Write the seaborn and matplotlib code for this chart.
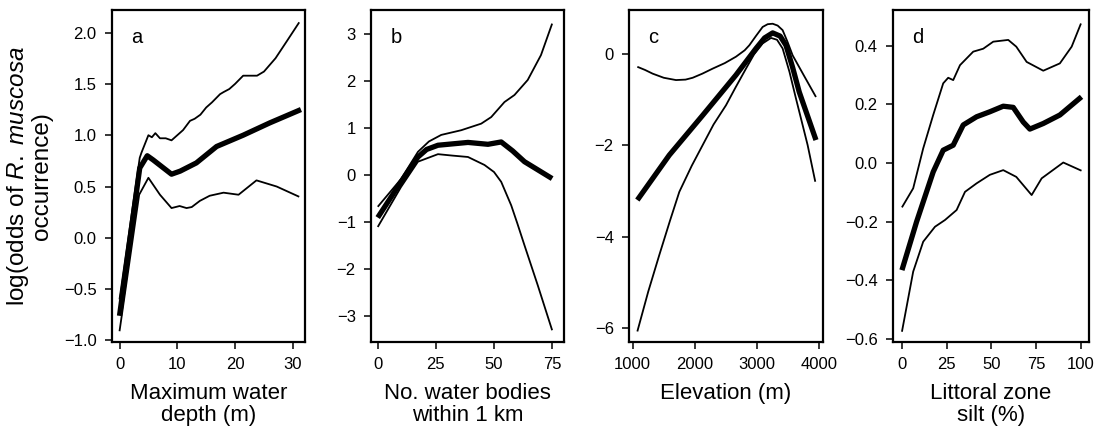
import matplotlib
matplotlib.use("Agg")
import matplotlib.pyplot as plt
import seaborn as sns
import pandas as pd

# --- Panel a: maximum water depth ---
A_FIT_X = [0, 3.5, 4.8, 5.8, 9.0, 10.5, 13.3, 16.8, 21.4, 26, 31.4]
A_FIT_Y = [-0.76, 0.68, 0.80, 0.76, 0.62, 0.65, 0.73, 0.89, 1.0, 1.12, 1.25]
A_UP_X = [0, 3.5, 3.8, 5.0, 5.6, 6.2, 7, 8, 9, 10, 11, 12.2, 13, 14, 15, 16, 17.4,
          18, 19, 20, 21.4, 23.8, 25, 27, 29, 31.1]
A_UP_Y = [-0.6, 0.78, 0.83, 1.0, 0.98, 1.02, 0.97, 0.97, 0.95, 1.0, 1.05, 1.14, 1.16,
          1.2, 1.27, 1.32, 1.40, 1.42, 1.45, 1.5, 1.58, 1.58, 1.62, 1.75, 1.92, 2.10]
A_LO_X = [0, 3.4, 5.0, 7.0, 9.0, 10.4, 11.6, 12.5, 13.9, 15.6, 18, 20.6, 23.7, 27.2, 31.1]
A_LO_Y = [-0.91, 0.42, 0.585, 0.42, 0.29, 0.31, 0.29, 0.30, 0.36, 0.41, 0.44, 0.42,
          0.56, 0.50, 0.40]

# --- Panel b: number of water bodies within 1 km ---
B_FIT_X = [0, 10, 17.3, 21, 25.9, 38.8, 47.4, 53.1, 58, 63.1, 75]
B_FIT_Y = [-0.9, -0.14, 0.39, 0.55, 0.64, 0.70, 0.66, 0.71, 0.52, 0.29, -0.07]
B_UP_X = [0, 10, 17.3, 22, 27.3, 35.9, 44.5, 48.8, 54.5, 58.8, 64.5, 70.2, 75]
B_UP_Y = [-0.67, -0.08, 0.50, 0.72, 0.86, 0.96, 1.10, 1.24, 1.56, 1.71, 2.03, 2.56, 3.23]
B_LO_X = [0, 10, 17.3, 25.9, 32, 38.8, 45.9, 50, 53.1, 57.4, 60, 63.1, 68.8, 75]
B_LO_Y = [-1.10, -0.25, 0.29, 0.45, 0.42, 0.39, 0.22, 0.07, -0.14, -0.64, -1.02, -1.49,
          -2.34, -3.3]

# --- Panel c: elevation ---
C_FIT_X = [1075, 1588, 2125, 2660, 2982, 3120, 3250, 3370, 3464, 3570, 3677, 3946]
C_FIT_Y = [-3.2, -2.22, -1.35, -0.47, 0.11, 0.34, 0.45, 0.38, 0.18, -0.30, -0.84, -1.89]
C_UP_X = [1075, 1200, 1321, 1500, 1696, 1850, 1964, 2120, 2286, 2480, 2660, 2800, 2875,
          2980, 3089, 3170, 3250, 3330, 3410, 3490, 3571, 3760, 3946]
C_UP_Y = [-0.29, -0.36, -0.44, -0.53, -0.58, -0.57, -0.53, -0.44, -0.33, -0.21, -0.07,
          0.07, 0.18, 0.38, 0.58, 0.64, 0.65, 0.61, 0.51, 0.25, -0.04, -0.50, -0.95]
C_LO_X = [1075, 1250, 1428, 1600, 1750, 1950, 2125, 2300, 2500, 2650, 2821, 2950, 3089,
          3223, 3320, 3410, 3520, 3624, 3720, 3812, 3935]
C_LO_Y = [-6.07, -5.2, -4.40, -3.65, -3.02, -2.45, -2.0, -1.55, -1.13, -0.75, -0.33,
          -0.02, 0.22, 0.34, 0.30, 0.11, -0.40, -0.98, -1.50, -2.0, -2.80]

# --- Panel d: littoral zone silt ---
D_FIT_X = [0, 8.2, 17.5, 23.1, 28.7, 34.3, 41.8, 49.2, 56.7, 62.3, 67.9, 71.6, 79.1, 88.4, 100.5]
D_FIT_Y = [-0.365, -0.20, -0.03, 0.044, 0.061, 0.13, 0.158, 0.175, 0.194, 0.19, 0.14,
           0.116, 0.135, 0.164, 0.226]
D_UP_X = [0, 6.3, 11.9, 17.5, 23.1, 25.9, 28.7, 32.5, 39.9, 45.5, 51.1, 59.5, 64, 69.8,
          79.1, 88.4, 95, 100.2]
D_UP_Y = [-0.151, -0.086, 0.05, 0.164, 0.272, 0.291, 0.283, 0.334, 0.38, 0.39, 0.414,
          0.42, 0.397, 0.345, 0.315, 0.34, 0.397, 0.476]
D_LO_X = [0, 6.3, 11.9, 18.5, 24.1, 30.6, 35.3, 41.8, 49.2, 56.7, 64, 72.6, 78.2, 90.3, 100.5]
D_LO_Y = [-0.575, -0.37, -0.268, -0.217, -0.194, -0.16, -0.098, -0.069, -0.04, -0.024,
          -0.047, -0.109, -0.052, 0.002, -0.026]

PANELS = [
    ("a", "Maximum water\ndepth (m)", (A_FIT_X, A_FIT_Y), (A_UP_X, A_UP_Y), (A_LO_X, A_LO_Y),
     [0, 10, 20, 30], [-1.0, -0.5, 0.0, 0.5, 1.0, 1.5, 2.0], "{:.1f}", (-1.3, 32.1), (-1.015, 2.22)),
    ("b", "No. water bodies\nwithin 1 km", (B_FIT_X, B_FIT_Y), (B_UP_X, B_UP_Y), (B_LO_X, B_LO_Y),
     [0, 25, 50, 75], [-3, -2, -1, 0, 1, 2, 3], "{:.0f}", (-2.9, 80.1), (-3.55, 3.52)),
    ("c", "Elevation (m)", (C_FIT_X, C_FIT_Y), (C_UP_X, C_UP_Y), (C_LO_X, C_LO_Y),
     [1000, 2000, 3000, 4000], [-6, -4, -2, 0], "{:.0f}", (941, 4059), (-6.3, 0.95)),
    ("d", "Littoral zone\nsilt (%)", (D_FIT_X, D_FIT_Y), (D_UP_X, D_UP_Y), (D_LO_X, D_LO_Y),
     [0, 25, 50, 75, 100], [-0.6, -0.4, -0.2, 0.0, 0.2, 0.4], "{:.1f}", (-5, 104.7), (-0.61, 0.522)),
]

sns.set_theme(style="ticks")
plt.rcParams["font.family"] = ["Liberation Sans", "DejaVu Sans"]
plt.rcParams["mathtext.fontset"] = "custom"
plt.rcParams["mathtext.rm"] = "Liberation Sans"
plt.rcParams["mathtext.it"] = "Liberation Sans:italic"
plt.rcParams["text.color"] = "black"
plt.rcParams["axes.labelcolor"] = "black"

fig = plt.figure(figsize=(11, 4.33), dpi=100)
lefts = [112, 371, 629, 893]
widths = [193, 193, 194, 196]

for i, (letter, xlabel, fit, up, lo, xt, yt, fmt, xl, yl) in enumerate(PANELS):
    ax = fig.add_axes([lefts[i] / 1100, 1 - 342 / 433, widths[i] / 1100, 332 / 433])
    # thin lines = bounds, thick line = fitted curve
    for (xs, ys), lw in ((up, 1.3), (lo, 1.3), (fit, 3.8)):
        df = pd.DataFrame({"x": xs, "y": ys})
        sns.lineplot(data=df, x="x", y="y", ax=ax, color="black", linewidth=lw,
                     estimator=None, sort=False, solid_capstyle="butt")
    ax.set_xlim(*xl)
    ax.set_ylim(*yl)
    ax.set_xticks(xt)
    ax.set_yticks(yt)
    ax.set_yticklabels([fmt.format(v).replace("-", "\u2212") for v in yt])
    ax.set_xlabel(xlabel, fontsize=16, labelpad=8, linespacing=1.05)
    ax.set_ylabel("")
    for s in ax.spines.values():
        s.set_visible(True)
        s.set_linewidth(1.6)
        s.set_color("black")
    ax.tick_params(axis="both", labelsize=12, colors="black", width=1.1, length=5,
                   pad=6, direction="out")
    ax.text(0.10, 0.90, letter, transform=ax.transAxes, fontsize=14.5, ha="left", va="baseline")
    if i == 0:
        ax.set_ylabel("log(odds of $\\it{R.\\ muscosa}$\noccurrence)", fontsize=17.5,
                      labelpad=8, linespacing=1.0)

fig.savefig("out.png", dpi=100)
